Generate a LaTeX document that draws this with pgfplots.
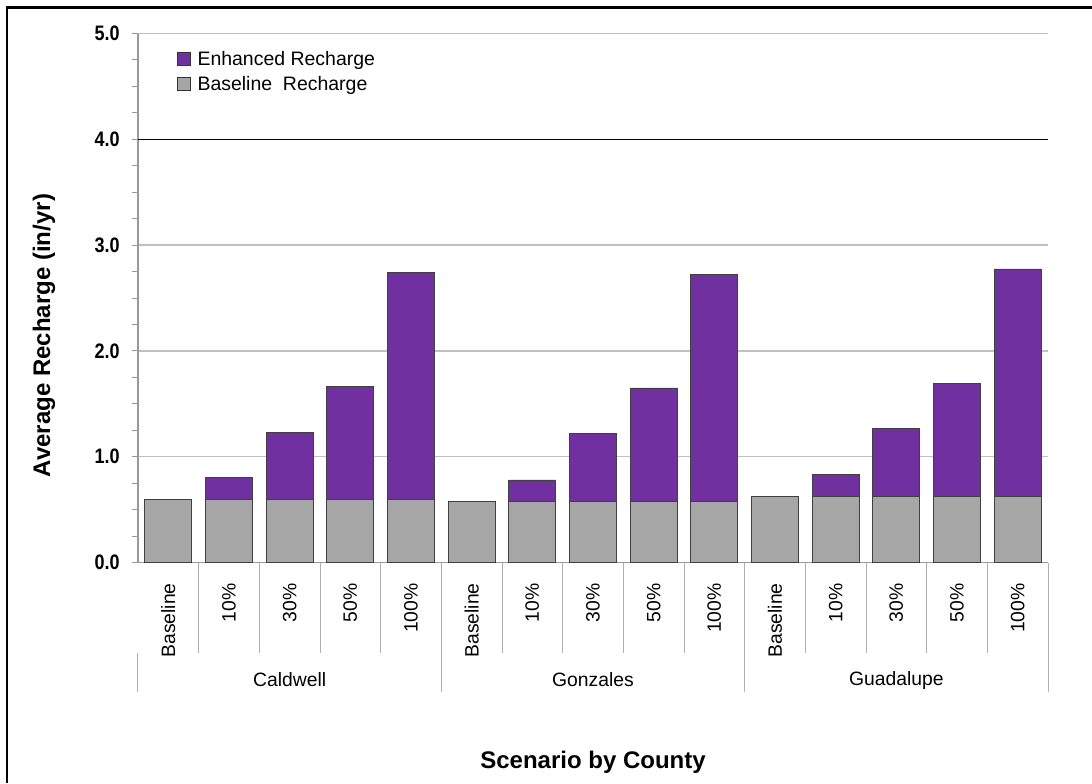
\documentclass[border=0pt]{standalone}
\usepackage{fontspec}
\setmainfont{Liberation Sans}
\newfontfamily\tickfont[FakeStretch=0.86]{Liberation Sans}
\usepackage{pgfplots}
\pgfplotsset{compat=1.18}
\definecolor{enh}{HTML}{7030A0}
\definecolor{basec}{HTML}{A6A6A6}
\definecolor{gridc}{HTML}{C0C0C0}
\definecolor{sepc}{HTML}{B0B0B0}
\begin{document}
\begin{tikzpicture}[x=0.75pt,y=0.75pt]
\path[use as bounding box] (0,0) rectangle (1092,783);
\draw[black, line width=2pt] (7,0) -- (7,775.5) -- (1092,775.5);
\begin{axis}[
  at={(103.5pt,165.375pt)}, anchor=south west,
  scale only axis, width=682.5pt, height=396.75pt,
  xmin=-0.5, xmax=14.5, ymin=0, ymax=5,
  clip=false,
  axis lines*=left,
  axis line style={draw=gray!80, line width=0.8pt},
  ybar stacked, bar width=0.775,
  ytick={0,1,2,3,4,5}, minor y tick num=3,
  ymajorgrids, grid style={gridc, line width=1pt},
  tick align=outside, major tick length=4.5pt, minor tick length=4.5pt,
  y tick style={gray!80, line width=0.7pt},
  xtick={0,...,14}, x tick style={draw=none},
  xticklabels={Baseline,10\%,30\%,50\%,100\%,Baseline,10\%,30\%,50\%,100\%,Baseline,10\%,30\%,50\%,100\%},
  xticklabel style={rotate=90, anchor=east, inner sep=0pt, font=\fontsize{14.5}{16}\selectfont},
  xticklabel shift=10.9pt,
  /pgf/number format/.cd, fixed, fixed zerofill, precision=1, assume math mode=true,
  /pgfplots/.cd,
  yticklabel style={anchor=east, inner sep=0pt, xshift=-9pt, font=\tickfont\bfseries\fontsize{15.7}{18}\selectfont},
  extra y ticks={4}, extra y tick labels={},
  extra y tick style={grid style={black, line width=1.2pt}},
  ylabel={Average Recharge (in/yr)},
  ylabel style={at={([xshift=-70.5pt]rel axis cs:0,0.429)}, anchor=center, font=\bfseries\fontsize{18}{20}\selectfont},
  xlabel={Scenario by County},
  xlabel style={at={([yshift=-149.6pt]rel axis cs:0.5,0)}, anchor=center, font=\bfseries\fontsize{18}{20}\selectfont},
  legend style={at={(rel axis cs:0.043,0.972)}, anchor=north west, draw=none, fill=none,
    font=\fontsize{14.6}{16}\selectfont, row sep=2.5pt, inner sep=0pt, cells={anchor=west}},
  reverse legend,
  legend image code/.code={\draw[#1, draw=black!80] (0pt,-4.875pt) rectangle (9.75pt,4.875pt); \path (12.5pt,0pt);},
]
\addplot[fill=basec, draw=black!75, line width=0.6pt] coordinates {
 (0,0.60) (1,0.60) (2,0.60) (3,0.60) (4,0.60)
 (5,0.58) (6,0.58) (7,0.58) (8,0.58) (9,0.58)
 (10,0.625) (11,0.625) (12,0.625) (13,0.625) (14,0.625)};
\addlegendentry{Baseline\ \ Recharge}
\addplot[fill=enh, draw=black!75, line width=0.6pt] coordinates {
 (0,0) (1,0.20) (2,0.63) (3,1.06) (4,2.14)
 (5,0) (6,0.20) (7,0.64) (8,1.07) (9,2.14)
 (10,0) (11,0.21) (12,0.64) (13,1.065) (14,2.15)};
\addlegendentry{Enhanced Recharge}
\pgfplotsinvokeforeach{0,...,13}{\draw[sepc, line width=0.75pt] (axis cs:#1+0.5,0) -- (axis cs:#1+0.5,-0.855);}
\draw[sepc, line width=0.75pt] (axis cs:-0.5,-0.855) -- (axis cs:-0.5,-1.224);
\draw[sepc, line width=0.75pt] (axis cs:4.5,-0.855) -- (axis cs:4.5,-1.224);
\draw[sepc, line width=0.75pt] (axis cs:9.5,0) -- (axis cs:9.5,-1.224);
\draw[sepc, line width=0.75pt] (axis cs:14.5,0) -- (axis cs:14.5,-1.224);
\node[font=\fontsize{14.5}{16}\selectfont] at (axis cs:2,-1.111) {Caldwell};
\node[font=\fontsize{14.5}{16}\selectfont] at (axis cs:7,-1.111) {Gonzales};
\node[font=\fontsize{14.5}{16}\selectfont] at (axis cs:12,-1.111) {Guadalupe};
\end{axis}
\end{tikzpicture}
\end{document}
